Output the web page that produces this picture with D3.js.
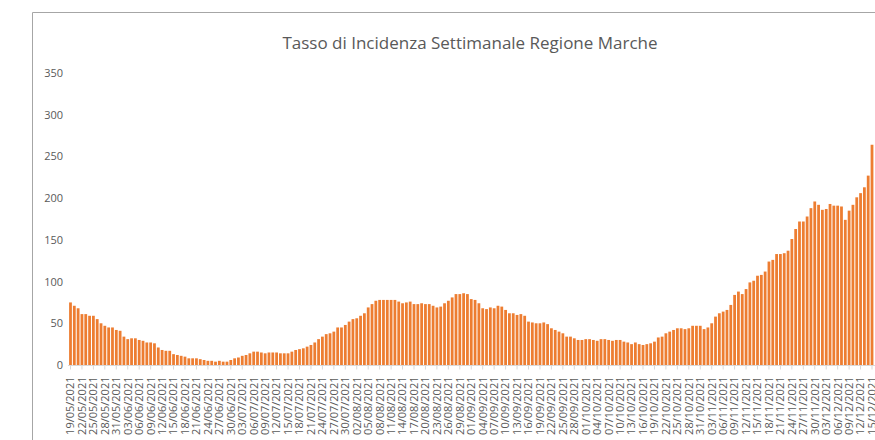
<!DOCTYPE html>
<html>
<head>
<meta charset="utf-8">
<script src="https://cdn.jsdelivr.net/npm/d3@7"></script>
<style>
  body { margin: 0; background: #fff; overflow: hidden; }
  svg { display: block; }
  .lbl { font-family: 'Liberation Sans Narrow', 'Open Sans', sans-serif; fill: #595959; }
</style>
</head>
<body>
<div id="chart"></div>
<script>
// weekly incidence rate, one value per day from 19/05/2021 to 15/12/2021
const startDate = new Date(2021, 4, 19)
const endDate = new Date(2021, 11, 16)
const fmt = d3.timeFormat('%d/%m/%Y')
const dates = d3.timeDay.range(startDate, endDate).map(fmt)

const incidence = [
  75, 71, 68, 61, 61, 59, 59, 55, 50, 47, 45, 45, 42, 41, 34, 31, 32, 32, 30, 29,
  27, 27, 26, 21, 18, 17, 17, 13, 12, 11, 10, 8, 8, 8, 7, 6, 5, 5, 4, 5,
  4, 4, 6, 8, 9, 11, 12, 14, 16, 16, 15,
  14, 15, 15, 15, 14, 14, 14, 16, 18, 19, 20, 22, 24, 27, 31, 34, 37, 38, 40, 45,
  45, 48, 52, 55, 56, 59, 62, 69, 73, 77, 78, 78, 78, 78, 78, 76, 74, 75, 76, 73,
  73, 74, 73, 73, 71, 69, 70, 74, 77, 81, 85, 85,
  86, 85, 79, 78, 74, 68, 67, 69, 68, 71, 70, 66, 62, 62, 60, 61, 59, 52, 51, 50,
  50, 51, 49, 44, 42, 40, 38, 34, 34, 32, 30, 30, 31, 31, 30, 29, 31, 31, 30, 29,
  30, 30, 28, 27, 25, 27, 25, 24, 25, 26, 28,
  33, 34, 38, 40, 42, 44, 44, 43, 44, 47, 47, 47, 43, 45, 50, 58, 62, 64, 66, 72,
  84, 88, 85, 91, 99, 101, 107, 108, 112, 124, 126, 133, 133, 134, 137, 151, 163, 172, 172, 178,
  188, 196, 192, 186, 187, 193, 191, 191, 190, 174, 185, 192, 201, 206, 213, 227, 264
]
const yTicks = [0, 50, 100, 150, 200, 250, 300, 350]
const title = 'Tasso di Incidenza Settimanale Regione Marche'

const width = 875, height = 440
const svg = d3.select('#chart').append('svg')
    .attr('width', width)
    .attr('height', height)

// chart area frame (right/bottom edges are cut off in the picture)
svg.append('path')
    .attr('d', 'M32.5,' + height + 'V12.5H' + (width + 5))
    .attr('fill', 'none')
    .attr('stroke', '#a6a6a6')

svg.append('text')
    .attr('class', 'lbl')
    .attr('x', 470)
    .attr('y', 49)
    .attr('text-anchor', 'middle')
    .style('font-size', '17px')
    .text(title)

let data = dates.map((d, i) => ({date: d, value: incidence[i]}))

let xScale = d3.scaleBand()
    .domain(dates)
    .range([68.6, 873.9])
    .paddingInner(0.27)
    .paddingOuter(0.13)

let yScale = d3.scaleLinear()
    .domain([0, 350])
    .range([365, 73])

// bars
svg.append('g').attr('id', 'bars')
    .selectAll('rect').data(data).enter().append('rect')
    .attr('x', d => xScale(d.date))
    .attr('y', d => yScale(d.value))
    .attr('width', xScale.bandwidth())
    .attr('height', d => yScale(0) - yScale(d.value))
    .attr('fill', '#ED7D31')

// y axis, labels only
let yAxis = svg.append('g')
    .attr('transform', 'translate(63,0)')
    .call(d3.axisLeft(yScale).tickValues(yTicks).tickSize(0).tickPadding(0))
yAxis.select('.domain').remove()
yAxis.selectAll('text')
    .attr('class', 'lbl')
    .attr('font-family', null)
    .style('font-size', '11px')

// x axis, label every third day
let xAxis = svg.append('g')
    .attr('transform', 'translate(0,' + (yScale(0) + 0.5) + ')')
    .call(d3.axisBottom(xScale)
        .tickValues(dates.filter((d, i) => i % 3 === 0))
        .tickSize(4)
        .tickSizeOuter(0))
xAxis.select('.domain')
    .attr('stroke', '#d9d9d9')
    .attr('d', 'M' + 68 + ',0H' + (width + 5))
xAxis.selectAll('.tick line').attr('stroke', '#d9d9d9')
xAxis.selectAll('text')
    .attr('class', 'lbl')
    .attr('font-family', null)
    .style('font-size', '11px')
    .attr('text-anchor', 'end')
    .attr('transform', 'rotate(-90)')
    .attr('x', -11)
    .attr('y', 0)
    .attr('dy', '0.35em')
</script>
</body>
</html>
